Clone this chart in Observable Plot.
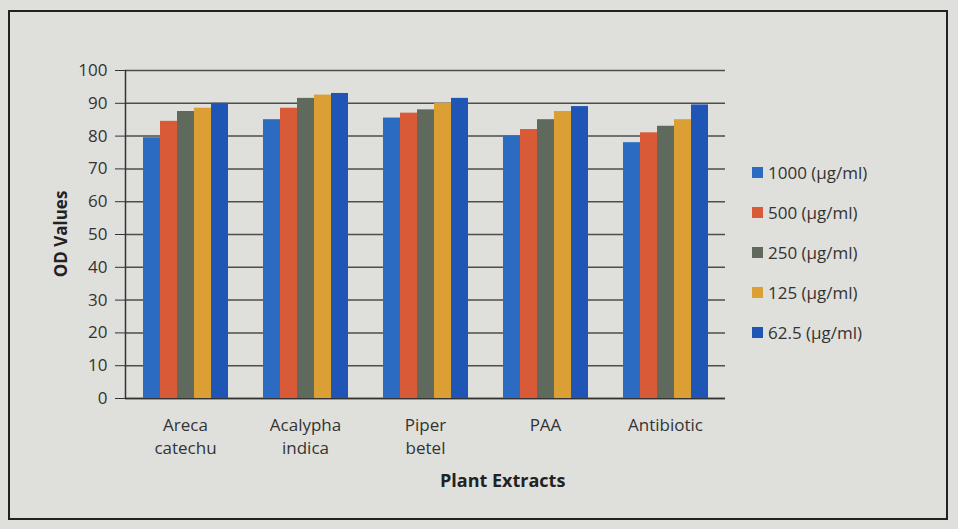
<!DOCTYPE html>
<html><head><meta charset="utf-8">
<script src="https://cdn.jsdelivr.net/npm/d3@7"></script>
<script src="https://cdn.jsdelivr.net/npm/@observablehq/plot@0.6"></script>
<style>
html,body{margin:0;padding:0;background:#fff;}
#wrap{position:relative;width:958px;height:529px;background:#dfe0dc;font-family:"Open Sans",sans-serif;overflow:hidden;}
#frame{position:absolute;left:8px;top:10px;width:940px;height:510px;border:2px solid #222;box-sizing:border-box;pointer-events:none;}
#legend{position:absolute;left:752px;top:152px;font-size:17px;color:#333;}
#legend div{display:flex;align-items:center;height:40px;}
#legend span.sw{display:inline-block;width:11px;height:11px;margin-right:5px;}
#ylab{position:absolute;left:60px;top:234px;transform:translate(-50%,-50%) rotate(-90deg);font-weight:bold;font-size:17px;color:#222;white-space:nowrap;}
#xlab{position:absolute;left:440px;top:468px;font-weight:bold;font-size:18px;color:#222;}
svg{position:absolute;left:0;top:0;background:transparent !important;}
</style></head>
<body><div id="wrap"><div id="frame"></div><div id="ylab">OD Values</div><div id="xlab">Plant Extracts</div><div id="legend"></div></div>
<script>
const categories = ["Areca\ncatechu", "Acalypha\nindica", "Piper\nbetel", "PAA", "Antibiotic"];
const series = ["1000 (µg/ml)", "500 (µg/ml)", "250 (µg/ml)", "125 (µg/ml)", "62.5 (µg/ml)"];
const colors = ["#2b6cc2", "#d95a36", "#5f695c", "#dc9f34", "#1f56b6"];
const v1000 = [79.5, 85, 85.5, 80, 78];
const v500  = [84.5, 88.5, 87, 82, 81];
const v250  = [87.5, 91.5, 88, 85, 83];
const v125  = [88.5, 92.5, 90, 87.5, 85];
const v625  = [90, 93, 91.5, 89, 89.5];
const yTicks = [0,10,20,30,40,50,60,70,80,90,100];

const vals = [v1000, v500, v250, v125, v625];
const data = [];
categories.forEach((c, i) => series.forEach((s, j) => data.push({cat: c, ser: s, value: vals[j][i]})));

const common = {
  width: 958, height: 529,
  marginLeft: 125, marginRight: 233, marginTop: 70, marginBottom: 131,
  style: {fontFamily: "Open Sans, sans-serif", fontSize: "17px", color: "#333", background: "transparent"},
  y: {domain: [0, 100], ticks: yTicks, label: null}
};

// background: grid, y axis, axis lines
const back = Plot.plot({
  ...common,
  x: {domain: [0, 1], axis: null},
  marks: [
    Plot.gridY(yTicks, {stroke: "#333", strokeOpacity: 0.85, strokeWidth: 1.5}),
    Plot.axisY(yTicks, {tickSize: 10, tickPadding: 8, fontSize: 17, stroke: "#333", label: null}),
    Plot.ruleY([0], {stroke: "#333", strokeWidth: 1.5}),
    Plot.ruleX([0], {stroke: "#333", strokeWidth: 1.5})
  ]
});

// foreground: grouped bars
const front = Plot.plot({
  ...common,
  fx: {domain: categories, paddingInner: 0.27, paddingOuter: 0.12, label: null},
  x: {domain: series, axis: null, padding: 0},
  color: {domain: series, range: colors},
  marks: [
    Plot.barY(data, {fx: "cat", x: "ser", y: "value", fill: "ser"}),
    Plot.axisFx({anchor: "bottom", tickSize: 0, tickPadding: 16, fontSize: 17, label: null, lineHeight: 1.35}),
    Plot.axisY({axis: null, ticks: []})
  ]
});
document.getElementById("wrap").appendChild(back);
document.getElementById("wrap").appendChild(front);

const leg = document.getElementById("legend");
series.forEach((s, i) => {
  const d = document.createElement("div");
  d.innerHTML = `<span class="sw" style="background:${colors[i]}"></span>${s}`;
  leg.appendChild(d);
});
</script></body></html>
